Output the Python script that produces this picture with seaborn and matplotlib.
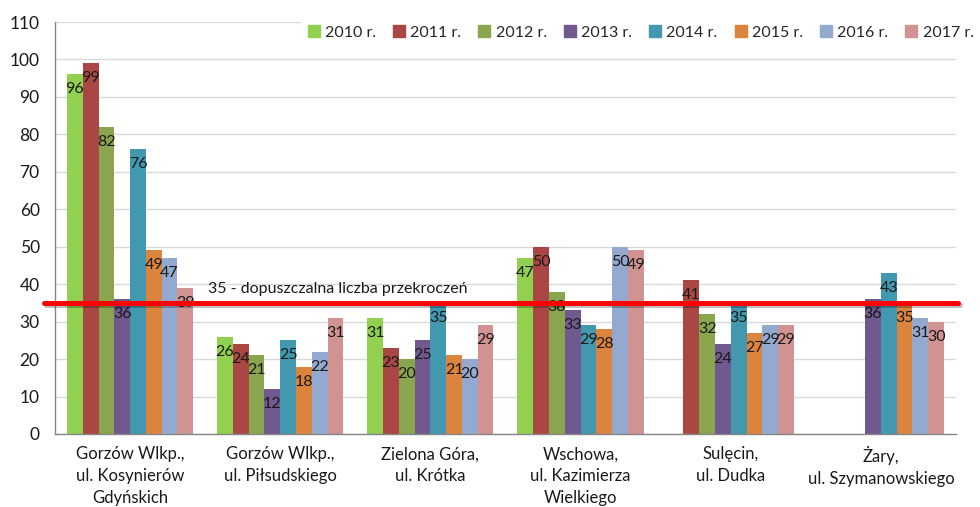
import numpy as np
import pandas as pd
import matplotlib
matplotlib.use("Agg")
import matplotlib.pyplot as plt
import matplotlib.patheffects as pe
from matplotlib.lines import Line2D
import seaborn as sns

# stations (category labels)
stations = [
    "Gorzów Wlkp.,\nul. Kosynierów\nGdyńskich",
    "Gorzów Wlkp.,\nul. Piłsudskiego",
    "Zielona Góra,\nul. Krótka",
    "Wschowa,\nul. Kazimierza\nWielkiego",
    "Sulęcin,\nul. Dudka",
    "Żary,\nul. Szymanowskiego",
]
years = ["2010 r.", "2011 r.", "2012 r.", "2013 r.", "2014 r.", "2015 r.", "2016 r.", "2017 r."]

# number of exceedances per year, one list per station (nan = no data)
nan = np.nan
gorzow_kosynierow = [96, 99, 82, 36, 76, 49, 47, 39]
gorzow_pilsudskiego = [26, 24, 21, 12, 25, 18, 22, 31]
zielona_gora = [31, 23, 20, 25, 35, 21, 20, 29]
wschowa = [47, 50, 38, 33, 29, 28, 50, 49]
sulecin = [nan, 41, 32, 24, 35, 27, 29, 29]
zary = [nan, nan, nan, 36, 43, 35, 31, 30]

limit_value = 35
limit_label = "35 - dopuszczalna liczba przekroczeń"

colors = ["#92D050", "#AA4643", "#89A54E", "#71588F",
          "#4198AF", "#DB843D", "#93A9CF", "#D19392"]

rows = []
for st, vals in zip(stations, [gorzow_kosynierow, gorzow_pilsudskiego, zielona_gora,
                               wschowa, sulecin, zary]):
    for yr, v in zip(years, vals):
        rows.append({"station": st, "year": yr, "value": v})
df = pd.DataFrame(rows)

sns.set_style("white")
plt.rcParams["font.family"] = ["Lato", "DejaVu Sans"]

fig = plt.figure(figsize=(9.8, 5.07), dpi=100)
ax = fig.add_axes([0.0561, 0.144, 0.9194, 0.8126])

sns.barplot(data=df, x="station", y="value", hue="year", order=stations,
            hue_order=years, palette=colors, width=0.84, gap=0,
            saturation=1, ax=ax, legend=False, linewidth=0, errorbar=None)

# data labels just under the top of each bar
for cont in ax.containers:
    for bar in cont:
        h = bar.get_height()
        if np.isnan(h) or h == 0:
            continue
        ax.annotate(f"{h:.0f}", (bar.get_x() + bar.get_width() / 2, h),
                    xytext=(0, -15), textcoords="offset pixels",
                    ha="center", va="center", fontsize=11.5, color="#1a1a1a",
                    zorder=5)

# limit line
ax.plot([-0.012, 1.002], [limit_value, limit_value], color="#FF0000", lw=3.6,
        transform=ax.get_yaxis_transform(), clip_on=False, zorder=10,
        path_effects=[pe.SimpleLineShadow(offset=(1.5, -1.5), alpha=0.25),
                      pe.Normal()])
ax.annotate(limit_label, (0.5, limit_value), xytext=(3, 14),
            textcoords="offset pixels", ha="left", va="center",
            fontsize=11.5, color="#1a1a1a", zorder=11)

# axes styling
ax.set_ylim(0, 110)
ax.set_yticks(np.arange(0, 111, 10))
ax.set_xlim(-0.5, len(stations) - 0.5)
ax.yaxis.grid(True, color="#D9D9D9", lw=1)
ax.set_axisbelow(True)
for s in ["top", "right"]:
    ax.spines[s].set_visible(False)
for s in ["left", "bottom"]:
    ax.spines[s].set_color("#868686")
    ax.spines[s].set_linewidth(1)
ax.set_xlabel("")
ax.set_ylabel("")
ax.tick_params(axis="y", length=5, color="#868686", labelsize=12.5,
               labelcolor="#1a1a1a", pad=6)
ax.tick_params(axis="x", which="major", length=0, labelsize=12,
               labelcolor="#1a1a1a", pad=9)
ax.set_xticks(np.arange(-0.5, len(stations)), minor=True)
ax.tick_params(axis="x", which="minor", length=5, color="#868686")
for lbl in ax.get_xticklabels():
    lbl.set_linespacing(1.45)
    lbl.set_verticalalignment("top")

# legend
handles = [Line2D([0], [0], marker="s", ls="", markersize=8,
                  markerfacecolor=c, markeredgecolor=c) for c in colors]
fig.legend(handles, years, loc="center right", bbox_to_anchor=(1.0, 0.935),
           ncol=8, frameon=True, facecolor="white", edgecolor="none",
           framealpha=1, fontsize=11.5, handlelength=0.8, handletextpad=0.3,
           columnspacing=1.05, borderpad=0.4, borderaxespad=0.0)

fig.savefig("out.png", dpi=100)
